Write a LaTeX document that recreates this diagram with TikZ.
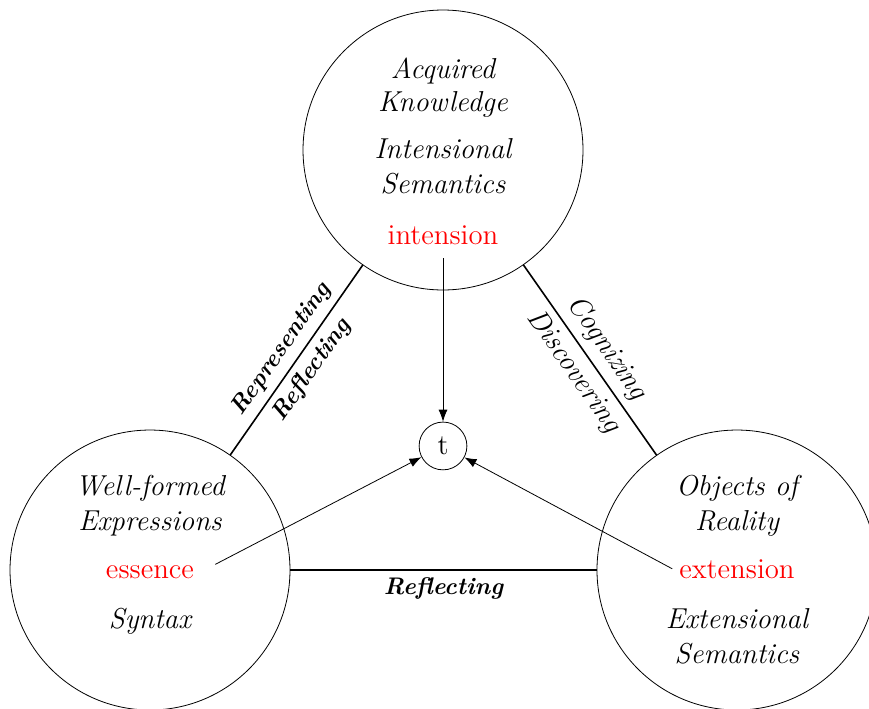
\documentclass[tikz,border=0pt]{standalone}
\usepackage{tikz}
\usetikzlibrary{arrows.meta}

\begin{document}
\begin{tikzpicture}[
    bigcirc/.style={draw, circle, minimum size=4.92cm, inner sep=0pt},
    word/.style={anchor=base, font=\Large\itshape},
    redword/.style={anchor=base, font=\Large, text=red},
    boldrel/.style={font=\large\bfseries\itshape},
    plainrel/.style={font=\Large\itshape},
    edge/.style={thick},
    pointer/.style={-{Latex[length=6pt,width=4.5pt]}}
]
    \useasboundingbox (-2.636,-2.425) rectangle (12.635,10.017);

    \node[bigcirc] (knowledge) at (5.149,7.381) {};
    \node[bigcirc] (expressions) at (0,0) {};
    \node[bigcirc] (reality) at (10.315,0) {};
    \node[draw, circle, minimum size=0.84cm, inner sep=0pt, font=\Large] (t) at (5.149,2.18) {t};

    \node[word] (acquired) at (5.149,8.646) {Acquired};
    \node[word] (knowl) at (5.149,8.049) {Knowledge};
    \node[word] (intensional) at (5.149,7.240) {Intensional};
    \node[word] (semtop) at (5.149,6.625) {Semantics};
    \node[redword] (intension) at (5.149,5.712) {intension};

    \node[word] (wellformed) at (0,1.318) {Well-formed};
    \node[word] (express) at (0,0.703) {Expressions};
    \node[redword] (essence) at (0,-0.141) {essence};
    \node[word] (syntax) at (0,-1.019) {Syntax};

    \node[word] (objects) at (10.315,1.318) {Objects of};
    \node[word] (real) at (10.315,0.703) {Reality};
    \node[redword] (extension) at (10.315,-0.141) {extension};
    \node[word] (extensional) at (10.315,-1.019) {Extensional};
    \node[word] (semright) at (10.315,-1.634) {Semantics};

    \draw[edge] (expressions) -- node[midway, above, sloped, boldrel]{Representing} node[midway, below, sloped, boldrel]{Reflecting} (knowledge);
    \draw[edge] (knowledge) -- node[midway, above, sloped, plainrel]{Cognizing} node[midway, below, sloped, plainrel]{Discovering} (reality);
    \draw[edge] (expressions) -- node[midway, below, boldrel]{Reflecting} (reality);

    \draw[pointer, shorten <=3pt] (intension) -- (t);
    \draw[pointer, shorten <=8pt] (essence.east) -- (t);
    \draw[pointer] (extension.west) -- (t);
\end{tikzpicture}
\end{document}
